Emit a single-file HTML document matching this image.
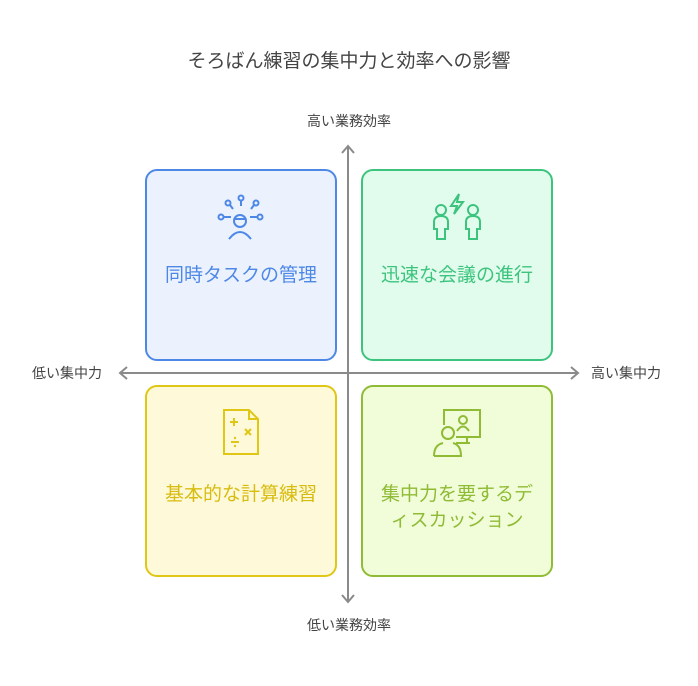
<!DOCTYPE html>
<html><head><meta charset="utf-8"><style>
body{margin:0;width:698px;height:686px;background:#fff;position:relative;overflow:hidden;font-family:"Liberation Sans","Noto Sans CJK JP",sans-serif}
.t{position:absolute;white-space:nowrap;color:#444}
.box{position:absolute;width:192px;height:192px;border:2px solid;border-radius:12px;box-sizing:border-box}
.lbl{position:absolute;left:0;width:100%;text-align:center;font-size:19px;line-height:26px;white-space:nowrap}
svg{position:absolute}
</style></head><body>
<div class="t" style="left:0;width:698px;text-align:center;top:46px;font-size:19px;color:#444">そろばん練習の集中力と効率への影響</div>
<div class="t" style="left:0;width:698px;text-align:center;top:111px;font-size:14px">高い業務効率</div>
<div class="t" style="left:0;width:698px;text-align:center;top:615px;font-size:14px">低い業務効率</div>
<div class="t" style="left:32px;top:363px;font-size:14px">低い集中力</div>
<div class="t" style="left:591px;top:363px;font-size:14px">高い集中力</div>

<div class="box" style="left:145px;top:169px;border-color:#4e88e6;background:#ebf2fe"><div class="lbl" style="top:92px;color:#4e88e6">同時タスクの管理</div></div>
<div class="box" style="left:361px;top:169px;border-color:#3cc47e;background:#e1fcec"><div class="lbl" style="top:92px;color:#3cc47e">迅速な会議の進行</div></div>
<div class="box" style="left:145px;top:385px;border-color:#e0c615;background:#fef9d8"><div class="lbl" style="top:95px;color:#d8bc10">基本的な計算練習</div></div>
<div class="box" style="left:361px;top:385px;border-color:#8fbb35;background:#f1fdd9"><div class="lbl" style="top:95px;color:#8fbb35">集中力を要するデ<br>ィスカッション</div></div>

<svg width="698" height="686" style="left:0;top:0" fill="none">
<g stroke="#8a8a8a" stroke-width="2">
<line x1="348" y1="147" x2="348" y2="601"/>
<line x1="121" y1="373" x2="577" y2="373"/>
<polyline points="342,153 348,146 354,153"/>
<polyline points="342,595 348,602 354,595"/>
<polyline points="127,367 120,373 127,379"/>
<polyline points="571,367 578,373 571,379"/>
</g>
<g stroke="#4e88e6" stroke-width="2">
<circle cx="240" cy="221" r="6"/><path d="M229 239 Q240 225 251 239"/><line x1="234" y1="219" x2="246" y2="219"/>
<circle cx="241" cy="198" r="2.5"/><line x1="241" y1="201" x2="241" y2="206"/>
<circle cx="228" cy="203" r="2.5"/><line x1="230" y1="205" x2="233" y2="209"/>
<circle cx="256" cy="203" r="2.5"/><line x1="254" y1="205" x2="251" y2="209"/>
<circle cx="221" cy="217" r="2.5"/><line x1="224" y1="217" x2="231" y2="217"/>
<circle cx="260" cy="217" r="2.5"/><line x1="250" y1="217" x2="257" y2="217"/>
</g>
<g stroke="#3cc47e" stroke-width="2">
<circle cx="441" cy="210" r="5"/><path d="M434 229 V222 Q434 216 441 216 Q448 216 448 222 V229 H445 V239 H437 V229 Z"/>
<circle cx="473" cy="210" r="5"/><path d="M466 229 V222 Q466 216 473 216 Q480 216 480 222 V229 H477 V239 H469 V229 Z"/>
<path d="M459 194 L451 206 H457 L454 214 L463 202 H457 Z"/>
</g>
<g stroke="#e0c615" stroke-width="2">
<path d="M224 410 H249 L258 419 V454 H224 Z M249 410 V419 H258"/>
<line x1="230" y1="422" x2="238" y2="422"/><line x1="234" y1="418" x2="234" y2="426"/>
<line x1="245" y1="429" x2="251" y2="435"/><line x1="251" y1="429" x2="245" y2="435"/>
<line x1="231" y1="442" x2="239" y2="442"/>
</g>
<g fill="#e0c615"><circle cx="235" cy="438" r="1.2"/><circle cx="235" cy="446" r="1.2"/></g>
<g stroke="#8fbb35" stroke-width="2">
<path d="M444 425 V410 H480 V437 H456"/><line x1="467" y1="437" x2="467" y2="443"/><line x1="456" y1="443" x2="470" y2="443"/>
<circle cx="463" cy="420" r="4"/><path d="M457 431 Q463 422 469 431"/>
<circle cx="448" cy="433" r="6"/><path d="M434 456 Q434 445 443 443 M453 443 Q461 445 461 456 H434"/>
</g>
</svg>
</body></html>
